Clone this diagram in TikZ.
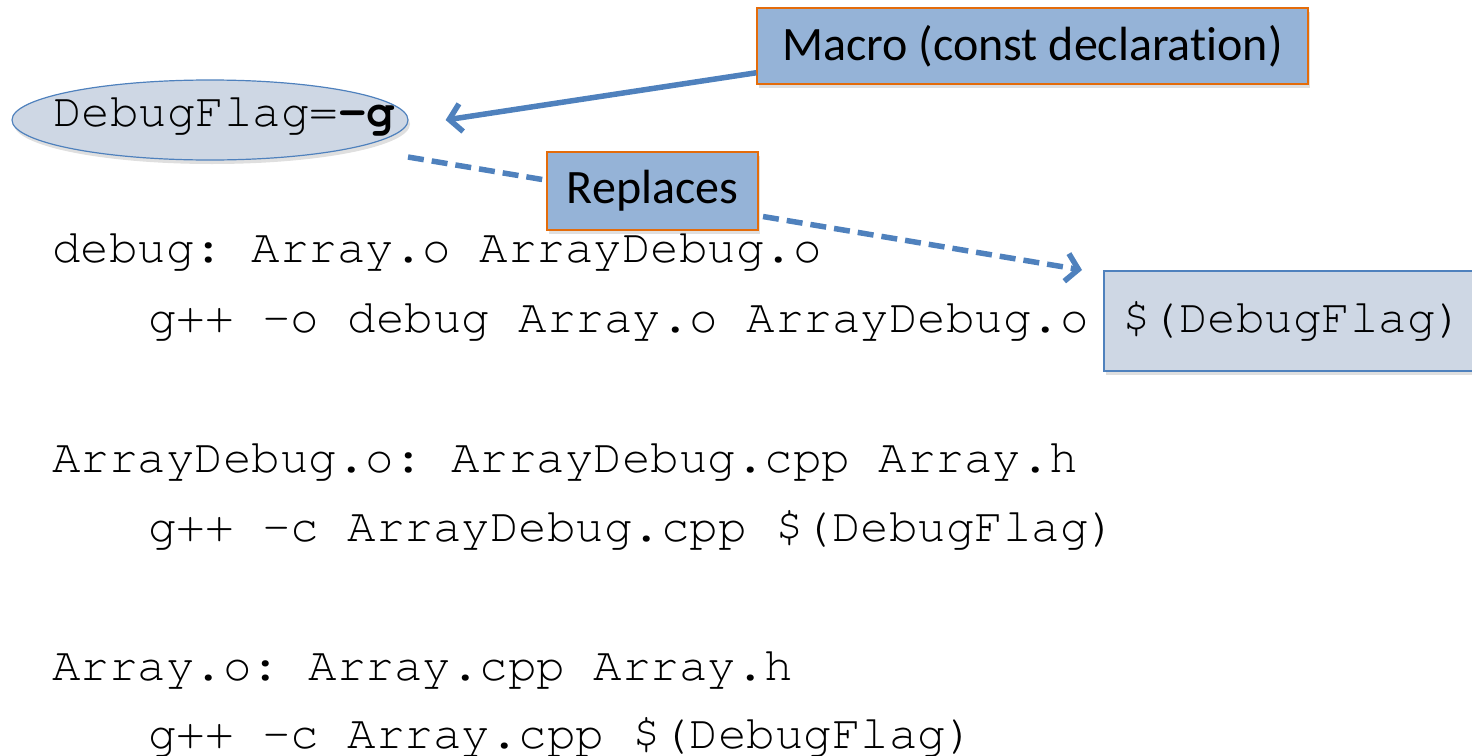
\documentclass[tikz,border=0pt]{standalone}
\usepackage{fontspec}
\setmonofont{TeX Gyre Cursor}
\newfontfamily\callfont[Ligatures=NoCommon]{Carlito}
\usetikzlibrary{shapes.geometric,arrows.meta,shadows}
\definecolor{accblue}{HTML}{4F81BD}
\definecolor{boxblue}{HTML}{95B3D7}
\definecolor{paleblue}{HTML}{CED7E4}
\definecolor{accorange}{HTML}{E46C0A}
\begin{document}
\begin{tikzpicture}[x=1pt,y=-1pt,
  code/.style={anchor=base west,inner sep=0pt,font=\ttfamily\fontsize{47.5}{50}\selectfont},
  callout/.style={draw=accorange,line width=1.5pt,fill=boxblue,inner sep=0pt,
    font=\callfont\fontsize{48}{52}\selectfont,
    drop shadow={shadow xshift=2pt,shadow yshift=-4pt,opacity=0.25}},
  arrowline/.style={draw=accblue,line width=5.5pt,-{Straight Barb[length=12pt,width=28pt,line width=5.5pt]}}
]
\useasboundingbox (0,0) rectangle (1472,755);
% macro definition
\node[ellipse,draw=accblue,line width=1.2pt,fill=paleblue,minimum width=396pt,minimum height=80pt,inner sep=0pt,
  drop shadow={shadow xshift=2pt,shadow yshift=-4pt,opacity=0.25}] (flag) at (210,120) {};
\node[code] (flagtxt) at (53,126) {DebugFlag=\textbf{-g}};
% code lines
\node[code] (l1) at (52,262) {debug: Array.o ArrayDebug.o};
\node[code] (l2) at (148,332) {g++ -o debug Array.o ArrayDebug.o};
\node[code] (l3) at (52,472) {ArrayDebug.o: ArrayDebug.cpp Array.h};
\node[code] (l4) at (148,541) {g++ -c ArrayDebug.cpp \$(DebugFlag)};
\node[code] (l5) at (52,680) {Array.o: Array.cpp Array.h};
\node[code] (l6) at (148,748) {g++ -c Array.cpp \$(DebugFlag)};
% usage box
\node[draw=accblue,line width=1.5pt,fill=paleblue,minimum width=380pt,minimum height=100pt,anchor=north west,inner sep=0pt,
  drop shadow={shadow xshift=2pt,shadow yshift=-4pt,opacity=0.25}] (ref) at (1103,270) {};
\node[code] (reftxt) at (1122,332) {\$(DebugFlag)};
% callouts
\node[callout,minimum width=551pt,minimum height=76pt] (macro) at (1032.5,46) {Macro (const declaration)};
\coordinate (dstart) at ([xshift=198pt,yshift=-37pt]flag.center);
\draw[arrowline,dashed,dash pattern=on 16pt off 8pt] (dstart) -- ([xshift=-21pt]ref.north west);
\node[callout,minimum width=211pt,minimum height=78pt] (repl) at (652.5,191) {Replaces};
\draw[arrowline] ([yshift=12pt]macro.south west) -- ([xshift=37pt]flag.east);
\end{tikzpicture}
\end{document}
